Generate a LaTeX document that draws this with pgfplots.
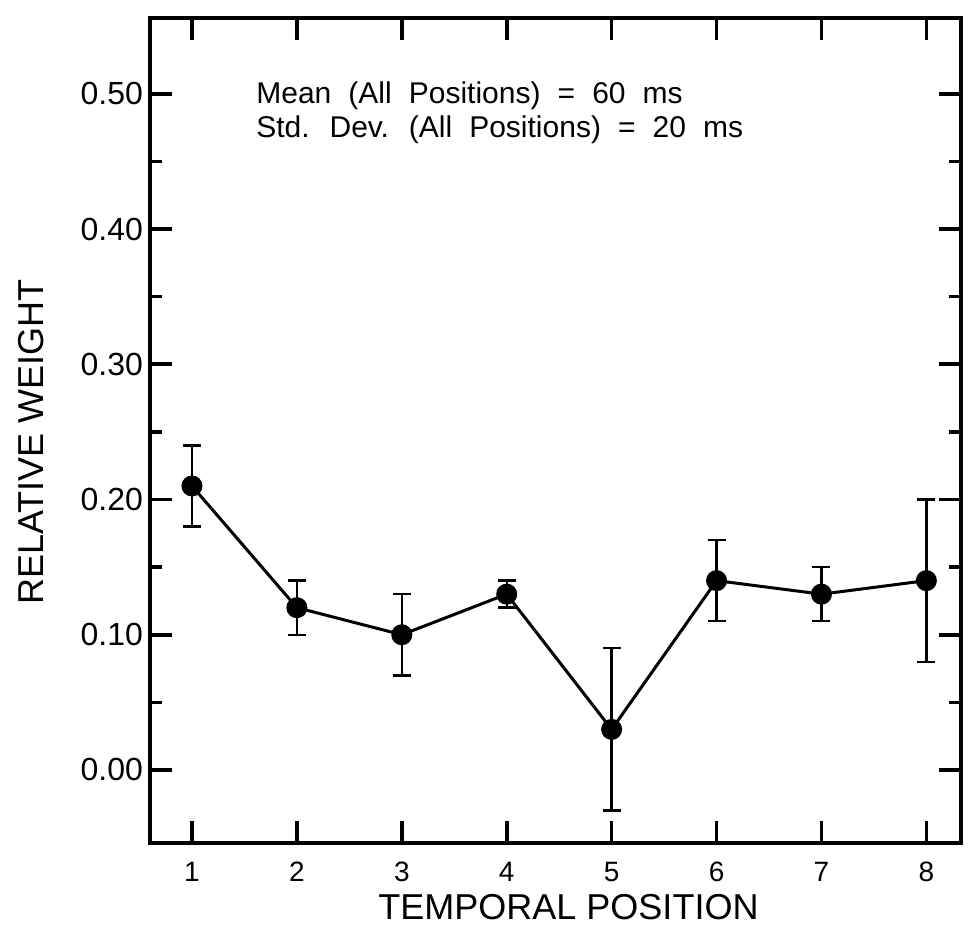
\documentclass[border=0pt]{standalone}
\usepackage{fontspec}
\setmainfont{Liberation Sans}
\newfontfamily\annfont[WordSpace=2.05]{Liberation Sans}
\usepackage{pgfplots}
\pgfplotsset{compat=1.18}
\begin{document}
\begin{tikzpicture}
\begin{axis}[
  at={(0,0)}, anchor=south west,
  scale only axis, width=405.5pt, height=412.5pt,
  xmin=0.60, xmax=8.33, ymin=-0.054, ymax=0.556,
  xtick={1,2,3,4,5,6,7,8},
  ytick={0,0.1,0.2,0.3,0.4,0.5},
  minor ytick={0.05,0.15,0.25,0.35,0.45},
  tick align=inside,
  major tick length=11pt, minor tick length=6pt,
  tick style={line width=1.8pt, black},
  axis line style={line width=2pt},
  /pgf/number format/assume math mode=true,
  y tick label style={/pgf/number format/.cd, fixed, fixed zerofill, precision=2, /tikz/.cd, font=\fontsize{16}{19}\selectfont},
  x tick label style={font=\fontsize{14}{17}\selectfont, yshift=-6pt},
  xlabel={TEMPORAL POSITION},
  ylabel={RELATIVE WEIGHT},
  xlabel style={font=\fontsize{18}{21}\selectfont, at={([yshift=-32pt]axis description cs:0.516,0)}, anchor=center},
  ylabel style={font=\fontsize{18}{21}\selectfont, at={([xshift=-59.5pt]axis description cs:0,0.486)}, anchor=center, rotate=0},
]
\addplot[black, line width=1.5pt, mark=*, mark size=4.5pt,
  error bars/.cd, y dir=both, y explicit,
  error bar style={line width=1.2pt, black},
  error mark options={rotate=90, mark size=4.5pt, line width=1.2pt, black}]
  table[x=x, y=y, y error=e] {
x y e
1 0.21 0.03
2 0.12 0.02
3 0.10 0.03
4 0.13 0.01
5 0.03 0.06
6 0.14 0.03
7 0.13 0.02
8 0.14 0.06
};
\node[anchor=base west, inner sep=0, font=\annfont\fontsize{15}{18}\selectfont] at (axis cs:1.61,0.4925) {Mean (All Positions) = 60 ms};
\node[anchor=base west, inner sep=0, font=\annfont\fontsize{15}{18}\selectfont] at (axis cs:1.61,0.468) {Std. Dev. (All Positions) = 20 ms};
\end{axis}
\pgfresetboundingbox
\path[use as bounding box] (-75pt,-45.5pt) rectangle (412pt,421.5pt);
\end{tikzpicture}
\end{document}
